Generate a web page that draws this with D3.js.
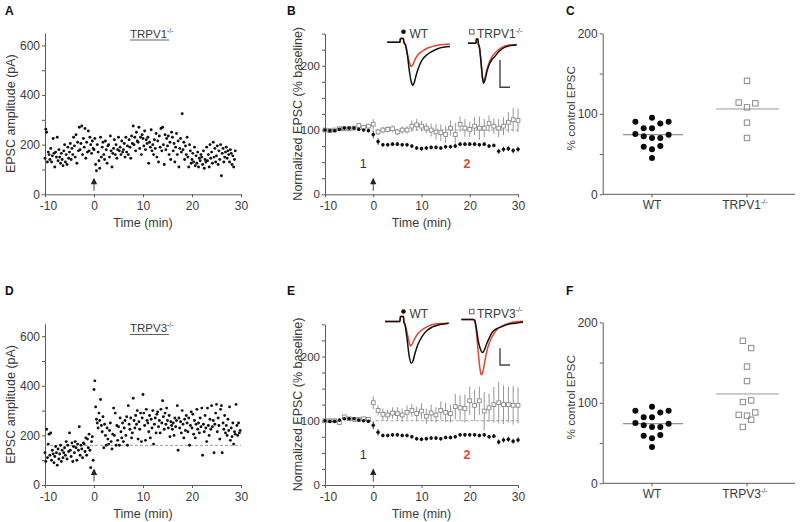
<!DOCTYPE html>
<html><head><meta charset="utf-8">
<script src="https://cdn.jsdelivr.net/npm/d3@7/dist/d3.min.js"></script>
<style>
body{margin:0;background:#fff}
svg{display:block}
text{font-family:"Liberation Sans",Arial,Helvetica,sans-serif}
</style>
</head><body>
<svg id="chart" width="800" height="522"></svg>
<script>
// ---------------- DATA ----------------
const sampleStepMin = 10 / 60;          // one EPSC every 10 s
const startMin = -10;
// Panel A: EPSC amplitude (pA), TRPV1-/-
const ampTRPV1 = [
 145,262,250,130,170,160, 140,185,130,155,225,165, 110,170,150,230,135,180, 150,125,165,140,115,175,
 200,130,160,120,190,145, 170,205,140,185,160,230, 195,150,240,125,210,175, 270,180,205,275,160,225,
 190,265,145,210,170,255, 175,230,200,165,215,185, 180,225,120,95,200,170, 135,105,230,150,190,210,
 160,140,215,180,125,195, 200,150,235,175,110,165, 185,220,160,200,145,180, 230,175,190,160,215,170,
 180,205,150,230,170,195, 160,220,190,145,235,205, 275,200,230,175,250,215, 210,270,185,230,160,240,
 225,195,255,180,220,205, 230,125,210,190,260,175, 200,160,220,185,245,150, 215,130,235,190,265,175,
 270,200,120,240,180,225, 195,235,160,210,140,250, 230,175,205,130,190,245, 160,215,110,185,225,170,
 325,180,210,140,195,160, 230,150,110,200,175,125, 140,165,130,190,115,155, 125,170,110,145,135,160,
 150,120,175,105,140,130, 190,135,160,110,200,145, 170,125,210,150,185,130, 155,195,120,175,140,200,
 75,165,185,130,150,170, 190,145,175,160,130,180, 165,120,155,110,140,175
];
// Panel D: EPSC amplitude (pA), TRPV3-/-
const ampTRPV3 = [
 130,95,225,110,165,205, 120,210,100,140,125,90, 115,155,130,80,145,105, 125,160,95,140,110,130,
 150,120,175,105,160,135, 210,140,115,170,95,155, 130,175,150,100,165,140, 235,120,160,145,110,170,
 165,135,190,120,185,150, 205,140,70,175,195,100, 385,420,315,265,250,230, 290,260,345,240,215,275,
 150,245,200,160,230,185, 165,220,250,175,145,205, 310,200,290,160,240,180, 235,160,270,215,190,250,
 175,230,260,200,275,160, 320,245,225,270,190,210, 350,260,230,280,245,300, 185,255,225,290,175,270,
 365,290,240,180,305,260, 250,215,280,190,265,230, 300,165,245,270,210,285, 295,235,260,210,305,250,
 340,275,225,290,245,310, 260,230,280,195,255,240, 225,250,200,270,235,260, 320,140,270,230,255,210,
 300,245,190,265,220,280, 250,215,270,160,240,295, 230,285,205,260,190,245, 305,225,250,210,270,235,
 310,120,245,215,280,230, 175,310,240,200,265,225, 320,235,260,130,245,290, 325,215,270,240,185,305,
 320,130,250,225,280,210, 240,200,265,220,315,180, 230,195,250,165,215,205, 325,240,200,250,210,220
];
const baselineTRPV3 = 160;              // dashed reference line in D (pA)

// Panels B / E: normalized EPSC (% baseline), one value per minute (-10 .. 30)
const minutes = d3.range(-10, 31);
const wtMean = [100,99,99,101,103,103,103,101,100,99,93,82,77,77,78,78,77,77,75,72,71,72,73,73,72,74,74,75,78,78,78,78,77,78,75,76,67,70,71,68,70];
const wtSem  = [2,2,2,2,2,2,2,2,2,2,6,5,3,3,3,3,3,3,3,3,3,3,3,3,3,3,3,3,3,3,3,3,3,3,3,3,4,4,4,4,4];
const v1Mean = [100,99,100,102,102,102,103,107,104,106,109,97,100,101,102,97,100,100,106,108,106,103,100,97,96,93,103,93,109,103,101,106,103,103,110,106,103,106,112,116,115];
const v1Sem  = [3,2,2,3,3,3,3,4,3,4,8,5,5,5,5,5,6,6,9,9,8,8,10,12,13,13,12,18,12,14,12,14,18,14,13,12,14,14,16,18,18];
const v3Mean = [100,100,100,97,106,103,102,102,103,102,128,116,110,109,112,111,109,113,116,111,115,107,112,109,116,113,111,122,120,119,131,124,131,115,120,125,128,125,125,124,124];
const v3Sem  = [2,2,2,3,3,2,2,2,2,2,10,8,9,8,9,10,10,11,10,11,12,12,13,12,14,15,14,20,20,22,22,24,22,30,22,28,32,30,28,30,28];

// Panels C / F: % control EPSC per cell (column = jitter column within the group)
const wtPct  = [90,95,90,82,82,88,75,72,70,70,74,59,56,60,45];
const wtCol  = [-2,0,2,-1,0,1,-2,-1,0,1,2,-1,0,1,0];
const v1Pct  = [141,114,108,113,89,70];
const v1Col  = [0,-1,0,1,0,0];
const v3Pct  = [177,168,145,127,101,103,85,84,88,79,70];
const v3Col  = [-0.5,0.5,0,0,-0.5,0.5,-1,0,1,0.5,-0.5];
const wtPctMean = 74, v1PctMean = 106, v3PctMean = 111;

// Ticks
const timeTicks = [-10,0,10,20,30];
const ampTicks = d3.range(0, 601, 100), ampLabels = [0,200,400,600];
const normTicks = d3.range(0, 251, 25), normLabels = [0,100,200];
const pctTicks = d3.range(0, 201, 50), pctLabels = [0,100,200];

// Example traces: [time (ms), current (pA)]; 1 = baseline (black), 2 = after drug (red)
const trB_WT_1 = [[0,0],[13,0],[13.3,7],[16.5,7],[16.8,0],[18.5,-5],[20.5,-25],[22.5,-55],[24.5,-75],[25.7,-80],[27,-76],[29,-62],[31.5,-47],[35,-33],[40,-23],[45,-17],[52,-11],[63,-8]];
const trB_WT_2 = [[0,0],[13,0],[13.3,7],[16.5,7],[16.8,0],[18.5,-5],[20.5,-22],[22.5,-38],[24.3,-45],[26,-41],[28,-32],[31,-23],[35,-17],[40,-11],[45,-8],[52,-5],[63,-3]];
const trB_V1_1 = [[0,0],[8,0],[8.3,8],[10,8],[10.3,0],[11.5,-8],[13,-35],[14.5,-65],[15.7,-74],[17,-68],[19,-52],[21.5,-38],[24,-30],[27,-24],[31,-15],[37,-7],[43,-4],[48.7,-3]];
const trB_V1_2 = [[0,0],[8,0],[8.3,8],[10,8],[10.3,0],[11.5,-8],[13,-33],[14.5,-62],[15.7,-70],[17,-64],[19,-48],[21.5,-34],[24,-25],[27,-18],[31,-11],[37,-5],[43,-3],[48.7,-2]];
const trE_WT_1 = [[0,0],[15,0],[15.3,15],[18.5,15],[18.8,0],[20,-10],[22,-50],[24,-100],[26.3,-125],[28,-118],[30,-95],[33,-68],[37,-45],[42,-27],[47,-17],[55,-9],[63.7,-5]];
const trE_WT_2 = [[0,0],[15,0],[15.3,15],[18.5,15],[18.8,0],[20,-8],[22,-32],[24,-60],[25.3,-73],[27,-68],[30,-50],[33,-36],[37,-25],[42,-16],[47,-10],[55,-6],[63.7,-5]];
const trE_V3_1 = [[0,0],[12,0],[13.4,-3],[15,-25],[17,-65],[19.5,-92],[21.4,-99],[23,-92],[25.5,-72],[28,-55],[31,-38],[35,-28],[40.7,-21],[47,-14],[54,-11],[61.7,-8]];
const trE_V3_2 = [[0,0],[12,0],[13.4,-3],[15,-35],[17,-100],[18.8,-150],[20,-166],[21.5,-158],[23.5,-125],[26,-90],[28,-70],[31,-50],[35,-32],[40.7,-20],[47,-12],[54,-7],[61.7,-5]];

// ---------------- DRAWING ----------------
const svg = d3.select("#chart");
const TXT = "#3a3a3a", AX = "#5a5a5a", RED = "#e8432f", GREY = "#8a8a8a";
const fmtMinus = d => d < 0 ? "-" + (-d) : String(d);

function yAxis(g, y, ticks, labels, fs) {
  g.call(d3.axisLeft(y).tickValues(ticks).tickSize(3).tickSizeOuter(0).tickPadding(2)
      .tickFormat(d => labels.includes(d) ? d : ""));
  styleAxis(g, fs || 12);
}
function xAxis(g, x, ticks) {
  g.call(d3.axisBottom(x).tickValues(ticks).tickSize(3).tickSizeOuter(0).tickPadding(4).tickFormat(fmtMinus));
  styleAxis(g, 12);
  g.selectAll(".tick text").attr("dx", d => d < 0 ? 3 : 0);
}
function styleAxis(g, fs) {
  g.select(".domain").attr("stroke", AX).attr("stroke-width", 1);
  g.selectAll(".tick line").attr("stroke", AX);
  g.selectAll(".tick text").attr("fill", TXT).attr("font-size", fs)
    .attr("font-family", '"Liberation Sans",Arial,sans-serif');
}
function yTitle(x, yc, txt, fs) {
  svg.append("text").attr("transform", `translate(${x},${yc}) rotate(-90)`)
    .attr("text-anchor", "middle").attr("font-size", fs || 12.5).attr("fill", TXT).text(txt);
}
function xTitle(xc, y, txt) {
  svg.append("text").attr("x", xc).attr("y", y).attr("text-anchor", "middle")
    .attr("font-size", 12.5).attr("fill", TXT).text(txt);
}
function panelLetter(x, y, l) {
  svg.append("text").attr("x", x).attr("y", y).attr("font-size", 12).attr("font-weight", "bold")
    .attr("fill", "#111").text(l);
}
function koLabel(sel, name, size) {
  sel.append("tspan").text(name);
  sel.append("tspan").attr("font-size", size * 0.6).attr("dy", -size * 0.42).text("-/-");
}
function arrow(x, tipY) {
  svg.append("path").attr("d", `M${x},${tipY} L${x-3.2},${tipY+6.5} L${x+3.2},${tipY+6.5} Z`).attr("fill", "#222");
  svg.append("line").attr("x1", x).attr("x2", x).attr("y1", tipY + 6).attr("y2", tipY + 13)
    .attr("stroke", "#444").attr("stroke-width", 1);
}

// ---- Scatter panels (A, D)
function scatterPanel(top0, yTop, data, title, titleY, dashed) {
  const x = d3.scaleLinear().domain([-10, 30]).range([45, 241]);
  const y = d3.scaleLinear().domain([0, 650]).range([top0, yTop]);
  const g = svg.append("g");
  yAxis(g.append("g").attr("transform", "translate(45,0)"), y, ampTicks, ampLabels);
  xAxis(g.append("g").attr("transform", `translate(0,${top0})`), x, timeTicks);
  if (dashed != null) {
    g.append("line").attr("x1", x(-10)).attr("x2", x(30)).attr("y1", y(dashed)).attr("y2", y(dashed))
      .attr("stroke", "#9a9a9a").attr("stroke-dasharray", "3,2").attr("stroke-width", 1);
  }
  g.append("g").selectAll("circle").data(data).join("circle")
    .attr("cx", (d, i) => x(startMin + i * sampleStepMin)).attr("cy", d => y(d))
    .attr("r", 1.45).attr("fill", "#111");
  const t = g.append("text").attr("x", 130).attr("y", titleY).attr("font-size", 11.5).attr("fill", TXT);
  koLabel(t, title, 11.5);
  g.append("line").attr("x1", 130).attr("x2", 169).attr("y1", titleY + 2.5).attr("y2", titleY + 2.5)
    .attr("stroke", TXT).attr("stroke-width", 0.8);
  arrow(x(0), top0 - 16.5);
  yTitle(14.5, (top0 + yTop) / 2, "EPSC amplitude (pA)");
  xTitle(143, top0 + 33, "Time (min)");
}
scatterPanel(194.3, 33, ampTRPV1, "TRPV1", 37.5, null);
scatterPanel(485, 323.8, ampTRPV3, "TRPV3", 332, baselineTRPV3);

// ---- Time course panels (B, E)
function timePanel(top0, koMean, koSem, traces, legendY, koName, scaleBar) {
  const x = d3.scaleLinear().domain([-10, 30]).range([325, 518]);
  const y = d3.scaleLinear().domain([0, 250]).range([top0, top0 - 160.7]);
  const g = svg.append("g");
  yAxis(g.append("g").attr("transform", "translate(325,0)"), y, normTicks, normLabels, 11.5);
  xAxis(g.append("g").attr("transform", `translate(0,${top0})`), x, timeTicks);
  g.append("line").attr("x1", x(0.5)).attr("x2", x(30)).attr("y1", y(100)).attr("y2", y(100))
    .attr("stroke", "#a0a0a0").attr("stroke-dasharray", "3,2");
  // KO series
  g.append("g").selectAll("line").data(minutes).join("line")
    .attr("x1", d => x(d)).attr("x2", d => x(d))
    .attr("y1", (d, i) => y(koMean[i] - koSem[i])).attr("y2", (d, i) => y(koMean[i] + koSem[i]))
    .attr("stroke", GREY).attr("stroke-width", 0.9);
  g.append("g").selectAll("rect").data(minutes).join("rect")
    .attr("x", d => x(d) - 1.9).attr("y", (d, i) => y(koMean[i]) - 1.9).attr("width", 3.8).attr("height", 3.8)
    .attr("fill", "#fff").attr("stroke", GREY).attr("stroke-width", 0.9);
  // WT series
  g.append("g").selectAll("line").data(minutes).join("line")
    .attr("x1", d => x(d)).attr("x2", d => x(d))
    .attr("y1", (d, i) => y(wtMean[i] - wtSem[i])).attr("y2", (d, i) => y(wtMean[i] + wtSem[i]))
    .attr("stroke", "#222").attr("stroke-width", 0.9);
  g.append("g").selectAll("circle").data(minutes).join("circle")
    .attr("cx", d => x(d)).attr("cy", (d, i) => y(wtMean[i])).attr("r", 1.8).attr("fill", "#111");
  // epoch labels
  g.append("text").attr("x", x(-2.1)).attr("y", top0 - 26).attr("text-anchor", "middle")
    .attr("font-size", 12.5).attr("fill", "#333").text("1");
  g.append("text").attr("x", x(19.4)).attr("y", top0 - 26).attr("text-anchor", "middle")
    .attr("font-size", 12.5).attr("fill", RED).attr("font-weight", "bold").text("2");
  arrow(x(0), top0 - 16.5);
  // traces
  traces.forEach(tr => {
    const tx = d3.scaleLinear().domain([0, 1]).range([tr.x0, tr.x0 + 1]);
    const ty = d3.scaleLinear().domain([-1, 0]).range([tr.y0 + tr.pxPerPA, tr.y0]);
    const line = d3.line().x(d => tx(d[0])).y(d => ty(d[1])).curve(d3.curveMonotoneX);
    g.append("path").attr("d", line(tr.after)).attr("fill", "none").attr("stroke", RED).attr("stroke-width", 1.5);
    g.append("path").attr("d", line(tr.before)).attr("fill", "none").attr("stroke", "#111").attr("stroke-width", 1.5);
  });
  // legend
  g.append("circle").attr("cx", 403.5).attr("cy", legendY - 6).attr("r", 2.3).attr("fill", "#111");
  g.append("text").attr("x", 409.5).attr("y", legendY).attr("font-size", 12).attr("fill", TXT).text("WT");
  g.append("rect").attr("x", 469.5).attr("y", legendY - 8.2).attr("width", 4.5).attr("height", 4.5)
    .attr("fill", "#fff").attr("stroke", "#555").attr("stroke-width", 0.9);
  koLabel(g.append("text").attr("x", 477).attr("y", legendY).attr("font-size", 12).attr("fill", TXT), koName, 12);
  // scale bar
  g.append("path").attr("d", `M500,${scaleBar[0]} L500,${scaleBar[1]} L510,${scaleBar[1]}`)
    .attr("fill", "none").attr("stroke", "#444").attr("stroke-width", 1.4);
  yTitle(302, top0 - 80.5, "Normalized EPSC (% baseline)");
  xTitle(421.5, top0 + 33, "Time (min)");
}
timePanel(194.3, v1Mean, v1Sem, [
  {x0: 387, y0: 42.3, pxPerPA: 0.54, before: trB_WT_1, after: trB_WT_2},
  {x0: 468, y0: 43.3, pxPerPA: 0.54, before: trB_V1_1, after: trB_V1_2}
], 37.8, "TRPV1", [60, 87.3]);
timePanel(485, v3Mean, v3Sem, [
  {x0: 385, y0: 321.5, pxPerPA: 0.334, before: trE_WT_1, after: trE_WT_2},
  {x0: 461.3, y0: 319.5, pxPerPA: 0.334, before: trE_V3_1, after: trE_V3_2}
], 317.5, "TRPV3", [348.3, 365]);

// ---- Summary panels (C, F)
function summaryPanel(top0, koName, koPct, koCol, koMean) {
  const x = d3.scalePoint().domain(["WT", koName]).range([652, 747]);
  const y = d3.scaleLinear().domain([0, 200]).range([top0, top0 - 161]);
  const colW = 8.3;
  const g = svg.append("g");
  yAxis(g.append("g").attr("transform", "translate(602.7,0)"), y, pctTicks, pctLabels);
  const xa = g.append("g").attr("transform", `translate(0,${top0})`);
  xa.append("line").attr("x1", 602.7).attr("x2", 795).attr("stroke", AX);
  xa.selectAll("line.t").data(x.domain()).join("line").attr("class", "t")
    .attr("x1", d => x(d)).attr("x2", d => x(d)).attr("y1", 0).attr("y2", 3).attr("stroke", AX);
  xa.append("text").attr("x", x("WT")).attr("y", 14.5).attr("text-anchor", "middle")
    .attr("font-size", 12).attr("fill", TXT).text("WT");
  koLabel(xa.append("text").attr("x", x(koName) - 2).attr("y", 14.5).attr("text-anchor", "middle")
    .attr("font-size", 12).attr("fill", TXT), koName, 12);
  // mean lines
  g.append("line").attr("x1", x("WT") - 29).attr("x2", x("WT") + 31).attr("y1", y(wtPctMean)).attr("y2", y(wtPctMean))
    .attr("stroke", "#777").attr("stroke-width", 1);
  g.append("line").attr("x1", x(koName) - 31).attr("x2", x(koName) + 32).attr("y1", y(koMean)).attr("y2", y(koMean))
    .attr("stroke", "#999").attr("stroke-width", 1);
  g.append("g").selectAll("circle").data(wtPct).join("circle")
    .attr("cx", (d, i) => x("WT") + wtCol[i] * colW).attr("cy", d => y(d)).attr("r", 3).attr("fill", "#0a0a0a");
  g.append("g").selectAll("rect").data(koPct).join("rect")
    .attr("x", (d, i) => x(koName) + koCol[i] * colW - 2.7).attr("y", d => y(d) - 2.7)
    .attr("width", 5.4).attr("height", 5.4).attr("fill", "none").attr("stroke", GREY).attr("stroke-width", 1);
  yTitle(575, top0 - 86, "% control EPSC", 11.8);
}
summaryPanel(194.3, "TRPV1", v1Pct, v1Col, v1PctMean);
summaryPanel(483.3, "TRPV3", v3Pct, v3Col, v3PctMean);

// Panel letters
panelLetter(5, 15, "A"); panelLetter(287, 15, "B"); panelLetter(566, 15, "C");
panelLetter(5, 295, "D"); panelLetter(287, 295, "E"); panelLetter(566, 295, "F");
</script>
</body></html>
